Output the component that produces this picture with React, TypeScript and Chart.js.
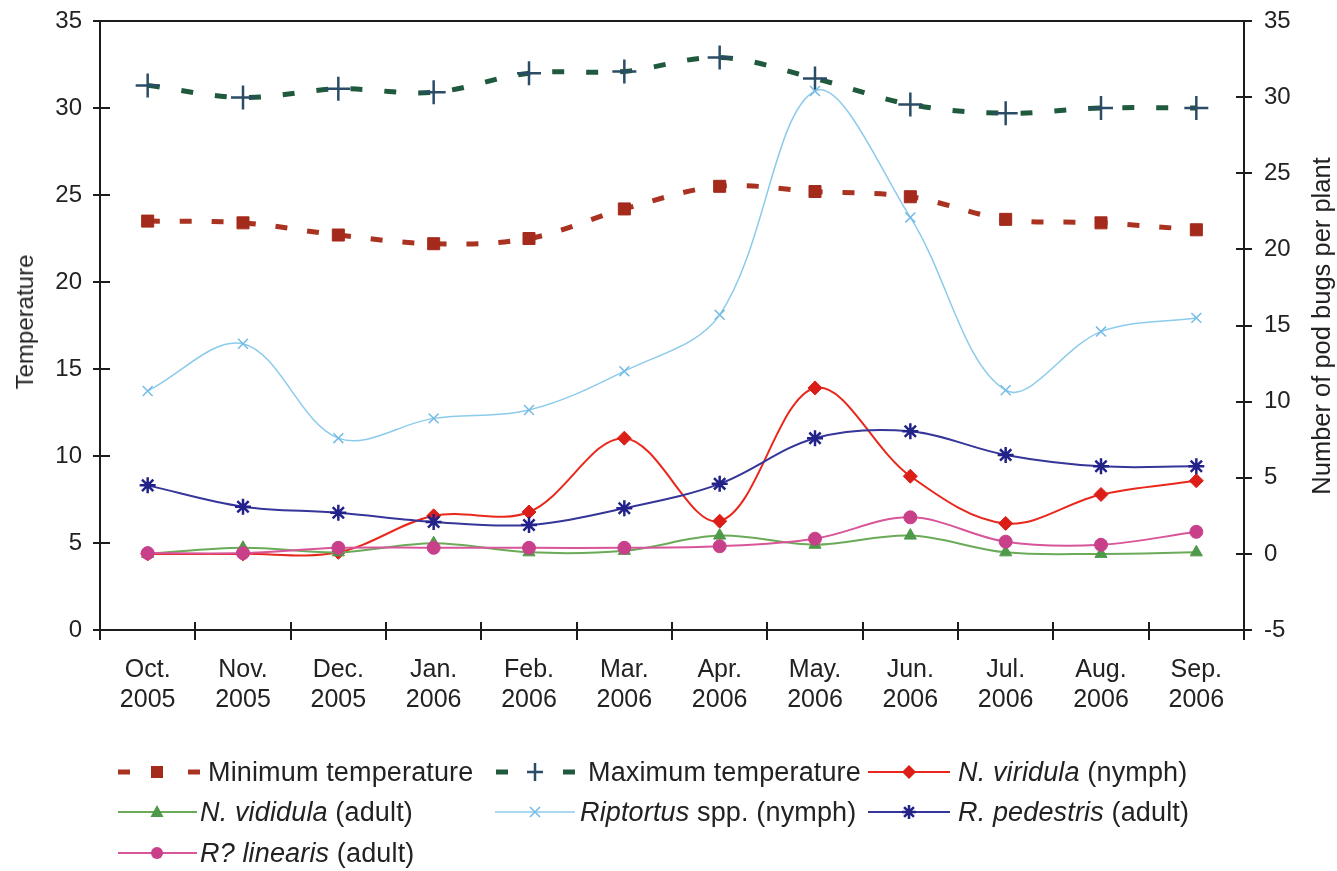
import React, { useEffect, useRef } from "react";
import { Chart, registerables } from "chart.js";

Chart.register(...registerables);

// Month / year labels for the sampling period
const months: string[][] = [
  ["Oct.", "2005"],
  ["Nov.", "2005"],
  ["Dec.", "2005"],
  ["Jan.", "2006"],
  ["Feb.", "2006"],
  ["Mar.", "2006"],
  ["Apr.", "2006"],
  ["May.", "2006"],
  ["Jun.", "2006"],
  ["Jul.", "2006"],
  ["Aug.", "2006"],
  ["Sep.", "2006"],
];

// Temperatures (left axis, °C)
const minTemperature = [23.5, 23.4, 22.7, 22.2, 22.5, 24.2, 25.5, 25.2, 24.9, 23.6, 23.4, 23.0];
const maxTemperature = [31.3, 30.6, 31.1, 30.9, 32.0, 32.1, 32.9, 31.7, 30.2, 29.7, 30.0, 30.0];

// Pod bugs per plant (right axis)
const viridulaNymph = [0, 0, 0.1, 2.5, 2.75, 7.6, 2.15, 10.9, 5.1, 2.0, 3.9, 4.8];
const vididulaAdult = [0, 0.4, 0.1, 0.7, 0.1, 0.2, 1.2, 0.6, 1.2, 0.1, 0, 0.1];
const riptortusNymph = [10.7, 13.8, 7.6, 8.9, 9.45, 12.0, 15.7, 30.4, 22.1, 10.75, 14.6, 15.5];
const pedestrisAdult = [4.5, 3.1, 2.7, 2.1, 1.9, 3.0, 4.6, 7.6, 8.05, 6.5, 5.75, 5.75];
const linearisAdult = [0.05, 0.05, 0.4, 0.4, 0.4, 0.4, 0.5, 1.0, 2.4, 0.8, 0.6, 1.45];

const FONT = "'Liberation Sans', Arial, Helvetica, sans-serif";
const INK = "#222222";
const AXIS = "#1c1c1c";

const C = {
  minLine: "#a93220",
  minPoint: "#a42a1c",
  maxLine: "#1f5a3e",
  maxPoint: "#2b4c66",
  viridula: "#e8281c",
  viridulaPt: "#dc1e18",
  vididula: "#6aaa58",
  vididulaPt: "#4f9a4a",
  riptortus: "#8ccbeb",
  riptortusPt: "#74bce6",
  pedestris: "#35359a",
  pedestrisPt: "#22228a",
  linearis: "#d8559a",
  linearisPt: "#c8408a",
};

// Closes the plot box at the top and draws the inward half of every tick mark
const frameAndTicks = {
  id: "frameAndTicks",
  afterDraw(chart: any) {
    const { ctx, chartArea: a, scales } = chart;
    ctx.save();
    ctx.strokeStyle = AXIS;
    ctx.lineWidth = 2;
    ctx.beginPath();
    ctx.moveTo(a.left, a.top);
    ctx.lineTo(a.right, a.top);
    scales.y.ticks.forEach((_t: any, i: number) => {
      const py = Math.round(scales.y.getPixelForTick(i));
      ctx.moveTo(a.left, py);
      ctx.lineTo(a.left + 10, py);
    });
    scales.y2.ticks.forEach((_t: any, i: number) => {
      const py = Math.round(scales.y2.getPixelForTick(i));
      ctx.moveTo(a.right, py);
      ctx.lineTo(a.right - 8, py);
    });
    for (let i = 0; i <= months.length; i++) {
      const px = Math.round(scales.x.getPixelForValue(i - 0.5));
      ctx.moveTo(px, a.bottom);
      ctx.lineTo(px, a.bottom - 8);
    }
    ctx.stroke();
    ctx.restore();
  },
};

const fixVertical = (width: number) => (s: any) => {
  s.width = width;
  s.paddingTop = 0;
  s.paddingBottom = 0;
};

function BugChart() {
  const ref = useRef<HTMLCanvasElement | null>(null);

  useEffect(() => {
    if (!ref.current) return;
    const smooth = 0.35;
    const chart = new Chart(ref.current, {
      type: "line",
      data: {
        labels: months,
        datasets: [
          {
            label: "Minimum temperature",
            data: minTemperature,
            yAxisID: "y",
            borderColor: C.minLine,
            borderWidth: 5,
            borderDash: [12, 20],
            tension: smooth,
            pointStyle: "rect",
            pointRadius: 8.5,
            pointBackgroundColor: C.minPoint,
            pointBorderColor: C.minPoint,
            pointBorderWidth: 1,
            order: 6,
          },
          {
            label: "Maximum temperature",
            data: maxTemperature,
            yAxisID: "y",
            borderColor: C.maxLine,
            borderWidth: 5,
            borderDash: [12, 22],
            tension: smooth,
            pointStyle: "cross",
            pointRadius: 12,
            pointBorderColor: C.maxPoint,
            pointBorderWidth: 2.5,
            order: 5,
          },
          {
            label: "N. viridula (nymph)",
            data: viridulaNymph,
            yAxisID: "y2",
            borderColor: C.viridula,
            borderWidth: 2,
            tension: smooth,
            pointStyle: "rectRot",
            pointRadius: 7,
            pointBackgroundColor: C.viridulaPt,
            pointBorderColor: C.viridulaPt,
            pointBorderWidth: 1,
            order: 4,
          },
          {
            label: "N. vididula (adult)",
            data: vididulaAdult,
            yAxisID: "y2",
            borderColor: C.vididula,
            borderWidth: 2,
            tension: smooth,
            pointStyle: "triangle",
            pointRadius: 7,
            pointBackgroundColor: C.vididulaPt,
            pointBorderColor: C.vididulaPt,
            pointBorderWidth: 1,
            order: 3,
          },
          {
            label: "Riptortus spp. (nymph)",
            data: riptortusNymph,
            yAxisID: "y2",
            borderColor: C.riptortus,
            borderWidth: 1.5,
            tension: smooth,
            pointStyle: "crossRot",
            pointRadius: 7,
            pointBorderColor: C.riptortusPt,
            pointBorderWidth: 1.5,
            order: 2,
          },
          {
            label: "R. pedestris (adult)",
            data: pedestrisAdult,
            yAxisID: "y2",
            borderColor: C.pedestris,
            borderWidth: 2,
            tension: smooth,
            pointStyle: "star",
            pointRadius: 8,
            pointBorderColor: C.pedestrisPt,
            pointBorderWidth: 2.5,
            order: 1,
          },
          {
            label: "R? linearis (adult)",
            data: linearisAdult,
            yAxisID: "y2",
            borderColor: C.linearis,
            borderWidth: 2,
            tension: smooth,
            pointStyle: "circle",
            pointRadius: 6.5,
            pointBackgroundColor: C.linearisPt,
            pointBorderColor: C.linearisPt,
            pointBorderWidth: 1,
            order: 0,
          },
        ],
      },
      options: {
        responsive: false,
        animation: false,
        devicePixelRatio: 1,
        layout: { padding: { top: 21, left: 0, right: 0, bottom: 0 } },
        plugins: {
          legend: { display: false },
          tooltip: { enabled: false },
        },
        scales: {
          x: {
            type: "category",
            offset: true,
            grid: {
              offset: true,
              drawOnChartArea: false,
              color: AXIS,
              lineWidth: 2,
              tickLength: 10,
            },
            border: { color: AXIS, width: 2 },
            ticks: {
              color: INK,
              font: { family: FONT, size: 25, lineHeight: 1.2 },
              padding: 15,
              maxRotation: 0,
              autoSkip: false,
            },
            afterFit: (s: any) => {
              s.height = 90;
            },
          },
          y: {
            position: "left",
            min: 0,
            max: 35,
            grid: {
              drawOnChartArea: false,
              color: AXIS,
              lineWidth: 2,
              tickLength: 7,
            },
            border: { color: AXIS, width: 2 },
            ticks: {
              stepSize: 5,
              color: INK,
              font: { family: FONT, size: 24 },
              padding: 11,
            },
            afterFit: fixVertical(100),
          },
          y2: {
            position: "right",
            min: -5,
            max: 35,
            grid: {
              drawOnChartArea: false,
              color: AXIS,
              lineWidth: 2,
              tickLength: 8,
            },
            border: { color: AXIS, width: 2 },
            ticks: {
              stepSize: 5,
              color: INK,
              font: { family: FONT, size: 24 },
              padding: 12,
            },
            afterFit: fixVertical(93),
          },
        },
      },
      plugins: [frameAndTicks],
    } as any);
    return () => chart.destroy();
  }, []);

  return (
    <canvas
      ref={ref}
      width={1337}
      height={720}
      style={{ position: "absolute", left: 0, top: 0, width: 1337, height: 720 }}
    />
  );
}

const rowY = [772, 812, 853];

function LegendIcons() {
  const y1 = rowY[0];
  const y2 = rowY[1];
  const y3 = rowY[2];
  const star = (cx: number, cy: number, r: number) => {
    const parts: string[] = [];
    for (let k = 0; k < 4; k++) {
      const ang = (k * Math.PI) / 4;
      const dx = Math.sin(ang) * r;
      const dy = Math.cos(ang) * r;
      parts.push(`M${cx - dx},${cy - dy}L${cx + dx},${cy + dy}`);
    }
    return parts.join("");
  };
  return (
    <svg
      width={1337}
      height={871}
      style={{ position: "absolute", left: 0, top: 0, pointerEvents: "none" }}
    >
      {/* Minimum temperature */}
      <line x1={118} y1={y1} x2={130} y2={y1} stroke={C.minLine} strokeWidth={5} />
      <rect x={151} y={y1 - 6} width={12} height={12} fill={C.minPoint} />
      <line x1={188} y1={y1} x2={200} y2={y1} stroke={C.minLine} strokeWidth={5} />
      {/* Maximum temperature */}
      <line x1={496} y1={y1} x2={508} y2={y1} stroke={C.maxLine} strokeWidth={5} />
      <path d={`M${535 - 8},${y1}H${535 + 8}M535,${y1 - 9}V${y1 + 9}`} stroke={C.maxPoint} strokeWidth={2.5} />
      <line x1={563} y1={y1} x2={575} y2={y1} stroke={C.maxLine} strokeWidth={5} />
      {/* N. viridula (nymph) */}
      <line x1={868} y1={y1} x2={950} y2={y1} stroke={C.viridula} strokeWidth={2} />
      <path d={`M909,${y1 - 7}L916,${y1}L909,${y1 + 7}L902,${y1}Z`} fill={C.viridulaPt} />
      {/* N. vididula (adult) */}
      <line x1={118} y1={y2} x2={197} y2={y2} stroke={C.vididula} strokeWidth={2} />
      <path d={`M157,${y2 - 7}L163.5,${y2 + 5}L150.5,${y2 + 5}Z`} fill={C.vididulaPt} />
      {/* Riptortus spp. (nymph) */}
      <line x1={495} y1={y2} x2={575} y2={y2} stroke={C.riptortus} strokeWidth={1.5} />
      <path d={`M530,${y2 - 5}L540,${y2 + 5}M540,${y2 - 5}L530,${y2 + 5}`} stroke={C.riptortusPt} strokeWidth={1.5} />
      {/* R. pedestris (adult) */}
      <line x1={868} y1={y2} x2={950} y2={y2} stroke={C.pedestris} strokeWidth={2} />
      <path d={star(909, y2, 7)} stroke={C.pedestrisPt} strokeWidth={2.5} />
      {/* R? linearis (adult) */}
      <line x1={118} y1={y3} x2={197} y2={y3} stroke={C.linearis} strokeWidth={2} />
      <circle cx={157} cy={y3} r={6} fill={C.linearisPt} />
    </svg>
  );
}

const legendText: { x: number; row: number; italic: string; plain: string }[] = [
  { x: 208, row: 0, italic: "", plain: "Minimum temperature" },
  { x: 588, row: 0, italic: "", plain: "Maximum temperature" },
  { x: 958, row: 0, italic: "N. viridula", plain: " (nymph)" },
  { x: 200, row: 1, italic: "N. vididula", plain: " (adult)" },
  { x: 580, row: 1, italic: "Riptortus", plain: " spp. (nymph)" },
  { x: 958, row: 1, italic: "R. pedestris", plain: " (adult)" },
  { x: 200, row: 2, italic: "R? linearis", plain: " (adult)" },
];

export default function App() {
  return (
    <div
      style={{
        position: "absolute",
        left: 0,
        top: 0,
        width: 1337,
        height: 871,
        background: "#ffffff",
        overflow: "hidden",
        fontFamily: FONT,
        color: INK,
      }}
    >
      <BugChart />
      {/* Axis titles */}
      <div
        style={{
          position: "absolute",
          left: 25,
          top: 322,
          transform: "translate(-50%, -50%) rotate(-90deg)",
          fontSize: 24,
          whiteSpace: "nowrap",
          lineHeight: "28px",
        }}
      >
        Temperature
      </div>
      <div
        style={{
          position: "absolute",
          left: 1321,
          top: 326,
          transform: "translate(-50%, -50%) rotate(-90deg)",
          fontSize: 25.5,
          whiteSpace: "nowrap",
          lineHeight: "28px",
        }}
      >
        Number of pod bugs per plant
      </div>
      <LegendIcons />
      {legendText.map((t, i) => (
        <div
          key={i}
          style={{
            position: "absolute",
            left: t.x,
            top: rowY[t.row] - 16,
            fontSize: 27,
            letterSpacing: "0.15px",
            lineHeight: "32px",
            whiteSpace: "nowrap",
          }}
        >
          {t.italic ? <i>{t.italic}</i> : null}
          {t.plain}
        </div>
      ))}
    </div>
  );
}
